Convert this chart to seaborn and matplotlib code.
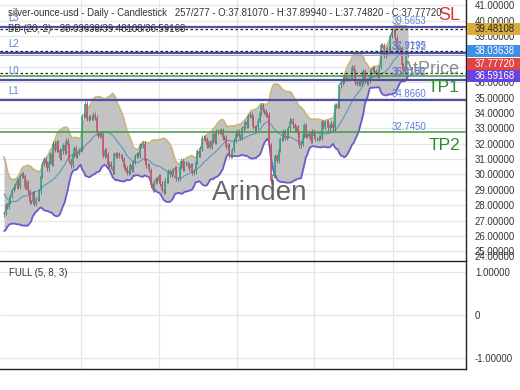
import numpy as np
import pandas as pd
import matplotlib
matplotlib.use("Agg")
import matplotlib.pyplot as plt
import matplotlib.transforms as mtrans
from matplotlib.patches import Rectangle
import seaborn as sns

# ---------------- data ----------------
# closes before the first visible bar (only feed the 20-bar bands)
pre_close = [30.9, 31.3, 30.4, 29.8, 29.2, 29.2, 29.3, 29.2, 28.0, 28.0,
             28.0, 28.6, 29.0, 28.9, 28.6, 27.3, 27.3, 26.8, 27.4]
close_2024_aug = [27.5, 28.0, 27.9, 28.2, 28.6, 29.0, 29.2, 29.3, 29.6, 29.2, 29.9, 30.0, 29.9, 29.2, 29.5, 28.9]
close_2024_sep = [28.2, 28.2, 28.8, 28.1, 28.4, 28.4, 28.9, 29.9, 30.7, 31.0, 30.7, 30.4, 30.8, 31.3, 30.7, 32.0, 31.6, 32.1, 31.6, 31.1]
close_2024_oct = [31.5, 31.9, 31.5, 32.2, 31.9, 30.9, 30.6, 31.3, 31.7, 31.2, 31.4, 31.6, 31.7, 33.8, 33.9, 34.6, 33.6, 33.7, 33.7, 33.7, 33.9, 33.7, 32.7]
close_2024_nov = [32.5, 32.6, 32.6, 31.2, 31.6, 31.3, 30.6, 30.7, 30.5, 30.2, 31.3, 31.2, 31.3, 31.2, 31.2, 31.0, 30.5, 30.4, 30.1, 30.2, 30.6]
close_2024_dec = [30.3, 30.8, 31.2, 31.3, 31.2, 31.9, 31.9, 32.0, 30.9, 30.6, 30.6, 30.3, 29.3, 29.0, 29.5, 29.7, 29.6, 29.9, 29.4, 29.0, 28.9]
close_2025_jan = [29.6, 29.6, 30.2, 30.0, 30.2, 30.3, 30.4, 29.7, 29.7, 30.5, 30.9, 30.4, 30.7, 30.7, 30.6, 30.4, 30.6, 30.1, 30.2, 30.8, 31.5, 31.3]
close_2025_feb = [31.7, 32.4, 32.4, 32.3, 31.9, 32.1, 31.8, 32.2, 32.6, 32.1, 32.8, 32.8, 32.8, 32.9, 32.4, 32.4, 31.8, 31.9, 31.2, 31.2]
close_2025_mar = [31.6, 32.2, 32.6, 32.8, 32.5, 32.4, 33.0, 33.1, 33.4, 33.2, 33.8, 33.9, 33.7, 33.1, 33.0, 33.1, 33.5, 34.0, 34.5, 34.2, 34.1]
close_2025_apr = [33.9, 33.9, 31.9, 29.6, 29.9, 30.0, 31.2, 30.9, 31.6, 32.3, 32.3, 32.8, 32.4, 32.5, 33.0, 33.5, 33.5, 33.2, 33.0, 33.1, 32.6]
close_2025_may = [31.9, 32.0, 32.6, 33.2, 32.5, 32.5, 32.6, 32.2, 32.8, 32.5, 32.3, 32.3, 32.4, 32.4, 33.4, 33.1, 33.4, 33.4, 33.0, 33.2, 33.3, 33.0]
close_2025_jun = [34.5, 34.5, 34.5, 35.8, 36.0, 36.1, 36.4, 36.2, 36.2, 36.3, 36.3, 37.0, 36.7, 36.0, 35.9, 36.0, 35.9, 36.1, 36.7, 36.1, 36.0]
close_2025_jul = [36.1, 36.5, 36.8, 36.9, 36.7, 36.6, 36.4, 37.0, 38.4, 38.4, 37.7, 37.9, 38.2, 38.2, 39.0, 39.3, 39.3, 38.9, 38.2, 38.1, 38.2, 37.1, 36.7]
close_2025_aug = [37.0, 37.8107, 37.7772]

last_ohlc = [37.81070, 37.89940, 37.74820, 37.77720]
bb_values = [38.03638, 39.48108, 36.59168]        # mid / upper / lower
level_names = ["L3", "L2", "L0", "L1"]
level_values = [39.5653, 37.9195, 36.1185, 34.8660]
tp_names = ["TP1", "TP2"]
tp_values = [36.4152, 32.7450]
sl_value = 39.5653
price_ticks = list(range(25, 42))
osc_ticks = [-1, 0, 1]
osc_labels = ["-1.00000", "0", "1.00000"]

# ---------------- build frame ----------------
visible = (close_2024_aug + close_2024_sep + close_2024_oct + close_2024_nov +
           close_2024_dec + close_2025_jan + close_2025_feb + close_2025_mar +
           close_2025_apr + close_2025_may + close_2025_jun + close_2025_jul +
           close_2025_aug)
allc = pd.Series(pre_close + visible, dtype=float)
mid = allc.rolling(20).mean()
sd = allc.rolling(20).std(ddof=0)
npre = len(pre_close)
df = pd.DataFrame({
    "bar": np.arange(len(allc)) - npre,
    "close": allc,
    "open": allc.shift(1),
    "mid": mid,
    "upper": mid + 2 * sd,
    "lower": mid - 2 * sd,
})
vis = df[df["bar"] >= 0].reset_index(drop=True)

# ---------------- figure ----------------
sns.set_theme(style="white")
plt.rcParams["font.family"] = ["Liberation Sans", "DejaVu Sans"]
FS = 6.9
W, H = 520, 390
fig = plt.figure(figsize=(W / 100, H / 100), dpi=100)
fig.patch.set_facecolor("white")

main_h = 261
ax = fig.add_axes([0, 1 - main_h / H, 466 / W, main_h / H])
ax2 = fig.add_axes([0, (H - 369) / H, 466 / W, (369 - main_h) / H])

YMIN, YMAX = 24.37, 41.35
XMIN, XMAX = -2.5, 289.3
ppu = main_h / (YMAX - YMIN)       # pixels per price unit
grid_bars = [48.2, 97.1, 145.9, 194.1, 243.6]
gcol = "#e6e6e6"

for a in (ax, ax2):
    a.set_facecolor("white")
    a.set_xlim(XMIN, XMAX)
    for gb in grid_bars:
        a.axvline(gb, color=gcol, lw=0.9, zorder=0)
    for s in a.spines.values():
        s.set_visible(False)
    a.spines["right"].set_visible(True)
    a.spines["right"].set_color("#222222")
    a.spines["right"].set_linewidth(1.0)
    a.set_xticks([])
    a.yaxis.tick_right()
    a.tick_params(axis="y", length=0, pad=6.5, labelsize=FS, colors="#333333")

ax.set_ylim(YMIN, YMAX)
for t in price_ticks:
    ax.axhline(t, color=gcol, lw=0.9, zorder=0)
ax.set_yticks(price_ticks)
ax.set_yticklabels([f"{t:.5f}" for t in price_ticks])

# Bollinger band fill + lines
ax.fill_between(vis["bar"], vis["lower"], vis["upper"], color="#c3c3c3", lw=0, zorder=1)
sns.lineplot(data=vis, x="bar", y="upper", ax=ax, color="#c9b67e", lw=1.3, zorder=2)
sns.lineplot(data=vis, x="bar", y="lower", ax=ax, color="#6a5cd0", lw=1.3, zorder=2)
sns.lineplot(data=vis, x="bar", y="mid", ax=ax, color="#5a97bd", lw=0.8, zorder=2)
ax.set_ylabel("")
ax.set_xlabel("")

# candles (body open->close, thin wick)
o = vis["open"].to_numpy()
c = vis["close"].to_numpy()
xb = vis["bar"].to_numpy()
upm = c >= o
lo = np.minimum(o, c)
hi = np.maximum(o, c)
ax.vlines(xb, lo - 0.15, hi + 0.15, color="#555555", lw=0.5, zorder=3)
ax.vlines(xb[upm], o[upm], c[upm], color="#35a58c", lw=1.2, zorder=4)
ax.vlines(xb[~upm], o[~upm], c[~upm], color="#d1546f", lw=1.2, zorder=4)

# level lines
for v in level_values:
    ax.axhline(v, color="#4f4fa3", lw=1.6, zorder=5)
for v in tp_values:
    ax.axhline(v, color="#3f9a3f", lw=1.1, zorder=5)
for v in bb_values:
    ax.axhline(v, color="#222222", lw=0.9, ls=(0, (2, 2)), zorder=6)
ax.axhline(last_ohlc[3], color="#9aaac4", lw=0.8, zorder=5)

blend = mtrans.blended_transform_factory(ax.transAxes, ax.transData)
lblue = "#5f7fd6"
for n, v in zip(level_names, level_values):
    ax.annotate(n, xy=(0, v), xycoords=blend, xytext=(8, 9), textcoords="offset pixels",
                fontsize=FS, color=lblue, va="center", ha="left", zorder=7)
val_labels = [(level_values[0], 6), (level_values[1], 7), (level_values[2], 8),
              (level_values[3], 6), (tp_values[0], 4), (tp_values[1], 5), (last_ohlc[3], 8)]
for v, dy in val_labels:
    ax.annotate(f"{v:.4f}", xy=(392 / 466, v), xycoords=blend, xytext=(0, dy),
                textcoords="offset pixels", fontsize=FS, color=lblue, va="center", ha="left", zorder=7)

# right-side words
ax.annotate("SL", xy=(460 / 466, sl_value), xycoords=blend, xytext=(0, 12), textcoords="offset pixels",
            fontsize=13, color="#d03a3a", ha="right", va="center", zorder=8)
ax.annotate("AtPrice", xy=(460 / 466, bb_values[2]), xycoords=blend, xytext=(0, 4), textcoords="offset pixels",
            fontsize=13, color="#8a8a8a", ha="right", va="center", zorder=8)
ax.annotate(tp_names[0], xy=(460 / 466, tp_values[0]), xycoords=blend, xytext=(0, -12), textcoords="offset pixels",
            fontsize=12.5, color="#2e8b2e", ha="right", va="center", zorder=8)
ax.annotate(tp_names[1], xy=(460 / 466, tp_values[1]), xycoords=blend, xytext=(0, -13), textcoords="offset pixels",
            fontsize=12.5, color="#2e8b2e", ha="right", va="center", zorder=8)

# watermark
ax.text(260 / 466, 1 - 193 / main_h, "Arinden", transform=ax.transAxes, fontsize=20,
        color="#555555", alpha=0.9, ha="center", va="center", zorder=9)

# right value boxes (pushed apart like the reference)
box_specs = [
    (bb_values[1], 0, "#d8ad3c", "#222222"),
    (bb_values[0], 0, "#3d8fe6", "white"),
    (last_ohlc[3], -9, "#e04444", "white"),
    (bb_values[2], -3, "#6a44e0", "white"),
]
bx0, bx1 = 467 / 466, 520 / 466
for v, dy, fc, tc in box_specs:
    yc = v + dy / ppu
    ax.add_patch(Rectangle((bx0, yc - 6 / ppu), bx1 - bx0, 12 / ppu, transform=blend,
                           facecolor=fc, edgecolor="none", clip_on=False, zorder=10))
    ax.text(475 / 466, yc, f"{v:.5f}", transform=blend, fontsize=FS, color=tc,
            ha="left", va="center", clip_on=False, zorder=11)
ax.annotate("24.00000", xy=(1, YMIN), xycoords=blend, xytext=(9, 4), textcoords="offset pixels",
            fontsize=FS, color="#333333", ha="left", va="center", annotation_clip=False)

# header
fig.text(8 / W, 1 - 13 / H,
         f"silver-ounce-usd - Daily - Candlestick   257/277 - O:{last_ohlc[0]:.5f} - H:{last_ohlc[1]:.5f}"
         f" - L:{last_ohlc[2]:.5f} - C:{last_ohlc[3]:.5f}",
         fontsize=FS, color="#333333", ha="left", va="center")
fig.text(8 / W, 1 - 29 / H,
         f"BB (20, 2) - {bb_values[0]:.5f}/{bb_values[1]:.5f}/{bb_values[2]:.5f}",
         fontsize=FS, color="#333333", ha="left", va="center")

# lower panel
ax2.set_ylim(-1.256, 1.256)
for t in osc_ticks:
    ax2.axhline(t, color=gcol, lw=0.9, zorder=0)
ax2.set_yticks(osc_ticks)
ax2.set_yticklabels(osc_labels)
for sname in ("top", "bottom"):
    ax2.spines[sname].set_visible(True)
    ax2.spines[sname].set_color("#222222")
    ax2.spines[sname].set_linewidth(1.0)
ax2.text(9 / 466, 1 - 12 / 108, "FULL (5, 8, 3)", transform=ax2.transAxes, fontsize=FS,
         color="#333333", ha="left", va="center")

fig.savefig("out.png", dpi=100, facecolor="white")
